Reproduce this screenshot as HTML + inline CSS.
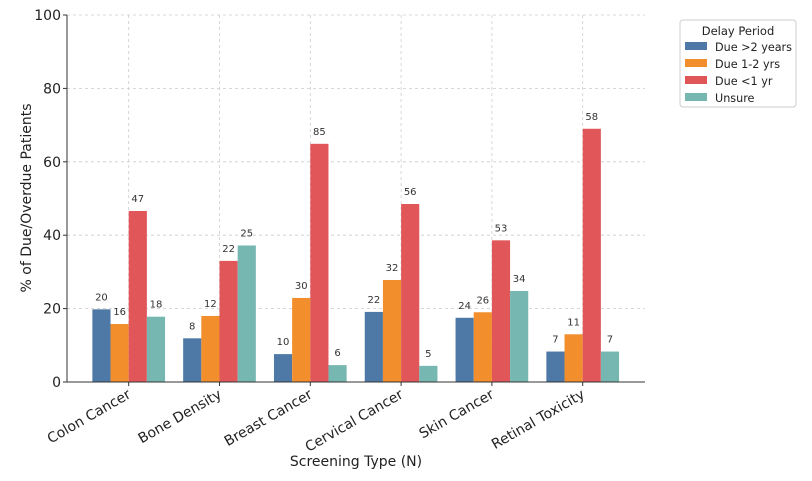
<!DOCTYPE html>
<html><head><meta charset="utf-8"><style>
body{margin:0;background:#fff;font-family:"Liberation Sans","DejaVu Sans",sans-serif}
svg text{font-family:"DejaVu Sans","Liberation Sans",sans-serif}
</style></head><body>
<svg id="chart" width="812" height="476" viewBox="0 0 812 476" xmlns="http://www.w3.org/2000/svg"></svg>
<script>
const categories=["Colon Cancer","Bone Density","Breast Cancer","Cervical Cancer","Skin Cancer","Retinal Toxicity"];
const seriesNames=["Due >2 years","Due 1-2 yrs","Due <1 yr","Unsure"];
const due2plus=[19.8,11.9,7.6,19.1,17.5,8.3];
const due1to2=[15.8,18.0,22.9,27.8,19.0,13.0];
const dueUnder1=[46.6,33.0,64.9,48.5,38.6,69.0];
const unsure=[17.8,37.2,4.6,4.4,24.8,8.3];
const countsDue2plus=[20,8,10,22,24,7];
const countsDue1to2=[16,12,30,32,26,11];
const countsUnder1=[47,22,85,56,53,58];
const countsUnsure=[18,25,6,5,34,7];
const yTicks=[0,20,40,60,80,100];
const colors=["#4e79a7","#f28e2b","#e15759","#76b7b2"];
const svg=document.getElementById('chart');
const NS="http://www.w3.org/2000/svg";
const L=67,R=645,T=15,B=382;
const y=v=>B-(v/100)*(B-T);
const x0=128.7,step=90.8,bw=18.17;
const xc=i=>x0+i*step;
function mk(t,a,p){const e=document.createElementNS(NS,t);for(const k in a)e.setAttribute(k,a[k]);(p||svg).appendChild(e);return e;}
yTicks.forEach(v=>{if(v>0){const g=mk('line',{x1:L,x2:R,y1:y(v),y2:y(v),stroke:'#ccc','stroke-dasharray':'3,3','stroke-width':0.8});}
const t=mk('text',{x:L-6,y:y(v)+5,'text-anchor':'end','font-size':14,fill:'#222'});t.textContent=v;
mk('line',{x1:L-4,x2:L,y1:y(v),y2:y(v),stroke:'#333'});});
categories.forEach((c,i)=>{const g=mk('line',{x1:xc(i),x2:xc(i),y1:T,y2:B,stroke:'#ccc','stroke-dasharray':'3,3','stroke-width':0.8});});
const vals=[due2plus,due1to2,dueUnder1,unsure];
const cnts=[countsDue2plus,countsDue1to2,countsUnder1,countsUnsure];
categories.forEach((c,i)=>{
 vals.forEach((arr,s)=>{
  const bx=xc(i)-2*bw+s*bw;
  const r=mk('rect',{x:bx,y:y(arr[i]),width:bw,height:B-y(arr[i]),fill:colors[s]});
  
  
  const t=mk('text',{x:bx+bw/2,y:y(arr[i])-9,'text-anchor':'middle','font-size':10,fill:'#333'});
  t.textContent=cnts[s][i];
  
  
 });
 mk('line',{x1:xc(i),x2:xc(i),y1:B,y2:B+4,stroke:'#333'});
 const t=mk('text',{x:xc(i)+3,y:B+15,'text-anchor':'end','font-size':14,fill:'#222',transform:`rotate(-30 ${xc(i)+3} ${B+15})`});
 t.textContent=c;
 
 
});
mk('line',{x1:L,x2:L,y1:T,y2:B,stroke:'#333','stroke-width':1});
mk('line',{x1:L,x2:R,y1:B,y2:B,stroke:'#333','stroke-width':1});
let t=mk('text',{x:356,y:466,'text-anchor':'middle','font-size':14,fill:'#222'});t.textContent='Screening Type (N)';
t=mk('text',{x:31,y:198,'text-anchor':'middle','font-size':14,fill:'#222',transform:'rotate(-90 31 198)'});t.textContent='% of Due/Overdue Patients';
const lg=mk('g',{});
mk('rect',{x:680,y:20,width:116,height:87,rx:3,fill:'#fff',stroke:'#ccc'},lg);
t=mk('text',{x:738,y:35,'text-anchor':'middle','font-size':11.5,fill:'#222'},lg);t.textContent='Delay Period';
seriesNames.forEach((n,s)=>{const e=mk('g',{},lg);
mk('rect',{x:685,y:42+s*17,width:22,height:8,fill:colors[s]},e);
const tt=mk('text',{x:715,y:51+s*17,'font-size':11.2,fill:'#222'},e);tt.textContent=n;});
</script>
</body></html>
